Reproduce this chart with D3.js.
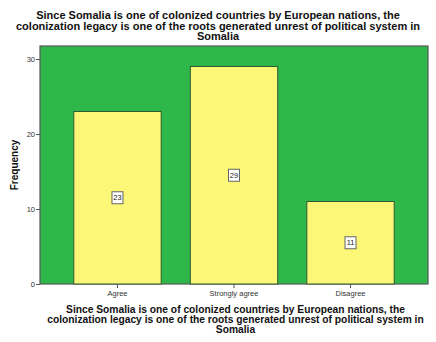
<!DOCTYPE html>
<html>
<head>
<meta charset="utf-8">
<script src="https://cdn.jsdelivr.net/npm/d3@7/dist/d3.min.js"></script>
<style>
  html, body { margin: 0; padding: 0; background: #fff; }
  svg { display: block; }
</style>
</head>
<body>
<svg id="chart" width="436" height="342"></svg>
<script>
// Response counts for the colonization-legacy statement
const categories = ["Agree", "Strongly agree", "Disagree"];
const frequencies = [23, 29, 11];
const yTicks = [0, 10, 20, 30];
const titleLines = [
  "Since Somalia is one of colonized countries by European nations, the",
  "colonization legacy is one of the roots generated unrest of political system in",
  "Somalia"
];
const yAxisTitle = "Frequency";

const svg = d3.select("#chart");
const plot = { left: 40, right: 428, top: 46, bottom: 284 };

const x = d3.scaleBand()
  .domain(categories)
  .range([plot.left, plot.right])
  .paddingInner(0.25)
  .paddingOuter(0.29);

const y = d3.scaleLinear()
  .domain([0, 30])
  .range([plot.bottom, 59]);

const font = "'Liberation Sans', Arial, sans-serif";

// Plot background
svg.append("rect")
  .attr("x", plot.left).attr("y", plot.top)
  .attr("width", plot.right - plot.left)
  .attr("height", plot.bottom - plot.top)
  .attr("fill", "#2eb84a")
  .attr("stroke", "#555")
  .attr("stroke-width", 1.2);

// Bars
svg.selectAll("rect.bar")
  .data(categories)
  .join("rect")
  .attr("class", "bar")
  .attr("x", d => x(d))
  .attr("y", (d, i) => y(frequencies[i]))
  .attr("width", x.bandwidth())
  .attr("height", (d, i) => y(0) - y(frequencies[i]))
  .attr("fill", "#fcf776")
  .attr("stroke", "#2c5a35")
  .attr("stroke-width", 1);

// Value labels in boxes at mid-height of each bar
const labels = svg.selectAll("g.val")
  .data(categories)
  .join("g")
  .attr("class", "val")
  .attr("transform", (d, i) =>
    `translate(${x(d) + x.bandwidth() / 2},${(y(0) + y(frequencies[i])) / 2})`);

labels.append("rect")
  .attr("x", -5.5).attr("y", -6)
  .attr("width", 11).attr("height", 12)
  .attr("fill", "#fff")
  .attr("stroke", "#666")
  .attr("stroke-width", 1);

labels.append("text")
  .attr("text-anchor", "middle")
  .attr("dy", "0.35em")
  .attr("font-family", font)
  .attr("font-size", 7.5)
  .attr("fill", "#222")
  .text((d, i) => frequencies[i]);

// Y axis
const yAxis = svg.append("g")
  .attr("transform", `translate(${plot.left},0)`)
  .call(d3.axisLeft(y).tickValues(yTicks).tickSize(4).tickSizeOuter(0));
yAxis.select(".domain").remove();
yAxis.selectAll("line").attr("stroke", "#555");
yAxis.selectAll("text")
  .attr("font-family", font)
  .attr("font-size", 7.5)
  .attr("fill", "#333")
  .attr("dx", 2);

// X axis
const xAxis = svg.append("g")
  .attr("transform", `translate(0,${plot.bottom})`)
  .call(d3.axisBottom(x).tickSize(4).tickSizeOuter(0));
xAxis.select(".domain").remove();
xAxis.selectAll("line").attr("stroke", "#555");
xAxis.selectAll("text")
  .attr("font-family", font)
  .attr("font-size", 7.5)
  .attr("fill", "#333")
  .attr("dy", "0.6em");

// Y axis title
svg.append("text")
  .attr("transform", `translate(18,${(plot.top + plot.bottom) / 2}) rotate(-90)`)
  .attr("text-anchor", "middle")
  .attr("font-family", font)
  .attr("font-weight", "bold")
  .attr("font-size", 10)
  .attr("fill", "#111")
  .text(yAxisTitle);

// Multi-line centred text block built from tspans
function textBlock(cx, firstBaseline, lineGap, size) {
  const t = svg.append("text")
    .attr("text-anchor", "middle")
    .attr("font-family", font)
    .attr("font-weight", "bold")
    .attr("font-size", size)
    .attr("fill", "#111");
  t.selectAll("tspan")
    .data(titleLines)
    .join("tspan")
    .attr("x", cx)
    .attr("y", (d, i) => firstBaseline + i * lineGap)
    .text(d => d);
}

// Chart title and x axis title
textBlock(218, 19, 10.5, 11);
textBlock(235.5, 313, 10, 10.25);
</script>
</body>
</html>
